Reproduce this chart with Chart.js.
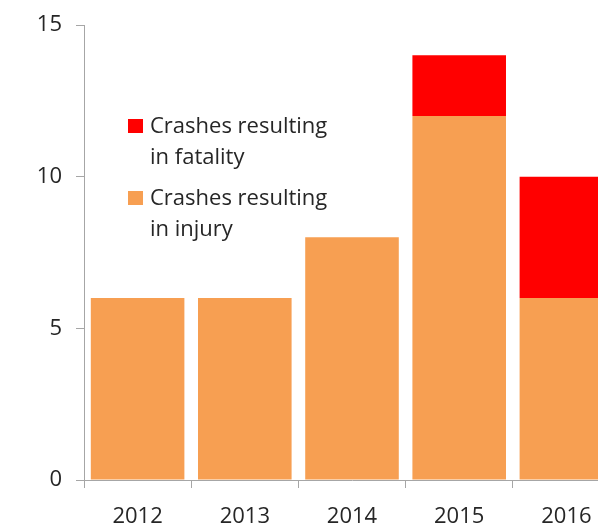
<!DOCTYPE html>
<html>
<head>
<meta charset="utf-8">
<script src="https://cdn.jsdelivr.net/npm/chart.js@4"></script>
<style>
  body { margin: 0; background: #fff; }
  #wrap { width: 598px; height: 525px; overflow: hidden; }
</style>
</head>
<body>
<div id="wrap"><canvas id="crashChart" width="620" height="525"></canvas></div>
<script>
// Data
const years = ['2012', '2013', '2014', '2015', '2016'];
const injuryCrashes = [6, 6, 8, 12, 6];
const fatalCrashes = [0, 0, 0, 2, 4];
const yTicks = [0, 5, 10, 15];
const injuryLabel = ['Crashes resulting', 'in injury'];
const fatalLabel = ['Crashes resulting', 'in fatality'];

const textColor = '#262626';
const axisColor = '#a6a6a6';
const fontName = "'Open Sans', sans-serif";

// legend drawn by hand, inside the plot, text on two lines
const legendInside = {
  id: 'legendInside',
  afterDraw(chart, args, opts) {
    const ctx = chart.ctx;
    ctx.save();
    ctx.font = '22px ' + fontName;
    ctx.textBaseline = 'middle';
    ctx.textAlign = 'left';
    // top entry is the last dataset, like the reference
    const items = chart.data.datasets.slice().reverse();
    items.forEach(function (ds, i) {
      const y = opts.y + i * opts.entryGap;
      ctx.fillStyle = ds.backgroundColor;
      ctx.fillRect(opts.x, y - 7, 15, 14);
      ctx.fillStyle = textColor;
      ds.label.forEach(function (line, j) {
        ctx.fillText(line, opts.x + 22, y + 1 + j * opts.lineGap);
      });
    });
    ctx.restore();
  }
};

new Chart(document.getElementById('crashChart'), {
  type: 'bar',
  data: {
    labels: years,
    datasets: [
      { label: injuryLabel, data: injuryCrashes, backgroundColor: '#F79F52' },
      { label: fatalLabel, data: fatalCrashes, backgroundColor: '#FF0000' }
    ]
  },
  options: {
    responsive: false,
    animation: false,
    layout: { padding: { top: 25, right: 0, bottom: 0, left: 0 } },
    datasets: { bar: { categoryPercentage: 1, barPercentage: 0.873 } },
    plugins: {
      legend: { display: false },
      tooltip: { enabled: false },
      legendInside: { x: 128, y: 126, entryGap: 72, lineGap: 31 }
    },
    scales: {
      x: {
        stacked: true,
        afterFit: function (s) { s.height = 45; },
        border: { color: axisColor, width: 1 },
        grid: { drawOnChartArea: false, color: axisColor, tickLength: 8, offset: true },
        ticks: { color: textColor, font: { family: fontName, size: 22 }, padding: 16, maxRotation: 0 }
      },
      y: {
        stacked: true,
        min: yTicks[0],
        max: yTicks[yTicks.length - 1],
        afterFit: function (s) { s.width = 84; s.paddingTop = 0; s.paddingBottom = 0; },
        afterBuildTicks: function (s) { s.ticks = yTicks.map(function (v) { return { value: v }; }); },
        border: { color: axisColor, width: 1 },
        grid: { drawOnChartArea: false, color: axisColor, tickLength: 8 },
        ticks: { color: textColor, font: { family: fontName, size: 22 }, padding: 14 }
      }
    }
  },
  plugins: [legendInside]
});
</script>
</body>
</html>
